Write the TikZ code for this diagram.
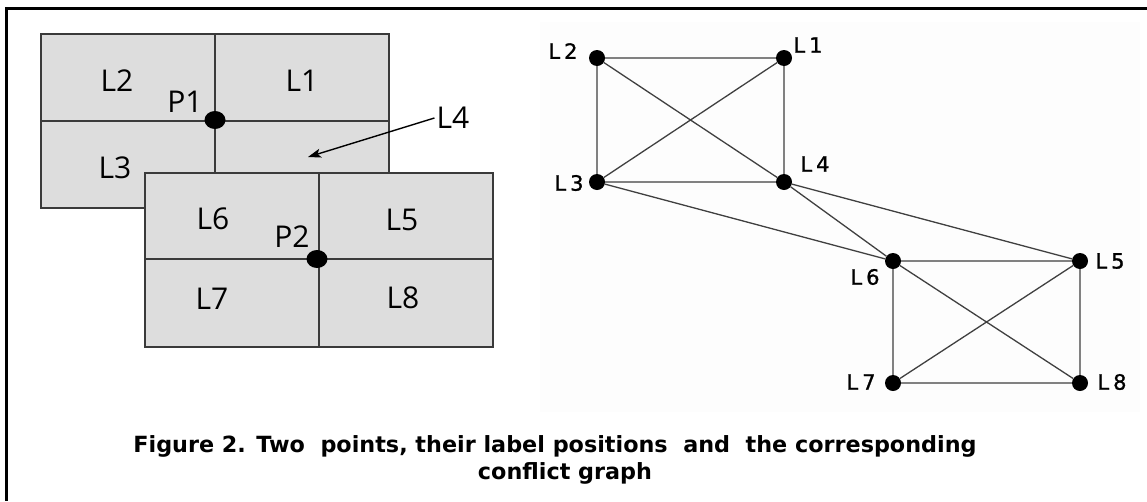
\documentclass[tikz,border=0pt]{standalone}
\usepackage{fontspec}
\setmainfont{Open Sans}
\newfontfamily\graphfont{DejaVu Sans}[FakeBold=1.2]
\newfontfamily\capfont{DejaVu Sans}
\usetikzlibrary{arrows.meta,shapes.geometric}
\definecolor{cellgray}{HTML}{DDDDDD}
\definecolor{linegray}{HTML}{3A3A3A}
\definecolor{edgegray}{HTML}{404040}
\definecolor{faint}{HTML}{FDFDFD}
\begin{document}
\begin{tikzpicture}[x=1pt,y=-1pt,
  cell/.style={fill=cellgray, draw=linegray, line width=1.1pt},
  divider/.style={draw=linegray, line width=1.1pt},
  reglabel/.style={inner sep=0pt, font=\fontsize{30}{30}\selectfont},
  ptdot/.style={ellipse, fill=black, inner sep=0pt, minimum width=21pt, minimum height=18pt},
  vtx/.style={circle, fill=black, inner sep=0pt, minimum size=16pt},
  vlab/.style={inner sep=0pt, font=\graphfont\fontsize{21}{21}\selectfont},
  edge/.style={draw=edgegray, line width=1.3pt},
  captext/.style={inner sep=0pt, anchor=base, font=\capfont\bfseries\fontsize{22.3}{22.3}\selectfont}]
\useasboundingbox (0,0) rectangle (1147,501);
\fill[white] (0,0) rectangle (1147,501);
\fill[faint] (540,22) rectangle (1140,412);
\draw[line width=3pt] (1147,8) -- (6,8) -- (6,501);

% first point's label positions
\draw[cell] (41,34) rectangle (389,208);
\draw[divider] (215,34) -- (215,208);
\draw[divider] (41,121) -- (389,121);
% second point's label positions
\draw[cell] (145,173) rectangle (493,347);
\draw[divider] (319,173) -- (319,347);
\draw[divider] (145,259) -- (493,259);

\node[reglabel] (aL2) at (117,81) {L2};
\node[reglabel] (aL1) at (302,81) {L1};
\node[reglabel] (aP1) at (185,102) {P1};
\node[reglabel] (aL3) at (115,168) {L3};
\node[reglabel] (aL4) at (453,118) {L4};
\node[reglabel] (aL6) at (213,219) {L6};
\node[reglabel] (aL5) at (402,220) {L5};
\node[reglabel] (aP2) at (292,237) {P2};
\node[reglabel] (aL7) at (212,299) {L7};
\node[reglabel] (aL8) at (403,298) {L8};
\node[ptdot] (p1) at (215,120) {};
\node[ptdot] (p2) at (317,259) {};
\coordinate (l4tip) at (308,157);
\draw[line width=1.4pt, -{Stealth[length=13pt,width=9pt,inset=3pt]}] ([xshift=-2pt]aL4.west) -- (l4tip);

% conflict graph
\node[vtx] (g2) at (597,58) {};
\node[vtx] (g1) at (784,58) {};
\node[vtx] (g3) at (597,182) {};
\node[vtx] (g4) at (784,182) {};
\node[vtx] (g6) at (893,261) {};
\node[vtx] (g5) at (1080,261) {};
\node[vtx] (g7) at (893,383) {};
\node[vtx] (g8) at (1080,383) {};
\draw[edge] (g1) -- (g2) (g1) -- (g3) (g1) -- (g4) (g2) -- (g3) (g2) -- (g4) (g3) -- (g4)
  (g3) -- (g6) (g4) -- (g6) (g4) -- (g5)
  (g5) -- (g6) (g5) -- (g7) (g5) -- (g8) (g6) -- (g7) (g6) -- (g8) (g7) -- (g8);
\node[vlab] (t2) at (563,51) {L\kern4pt 2};
\node[vlab] (t1) at (808,45) {L\kern4pt 1};
\node[vlab] (t3) at (569,183) {L\kern4pt 3};
\node[vlab] (t4) at (815,164) {L\kern4pt 4};
\node[vlab] (t6) at (865,277) {L\kern4pt 6};
\node[vlab] (t5) at (1110,261) {L\kern4pt 5};
\node[vlab] (t7) at (861,382) {L\kern4pt 7};
\node[vlab] (t8) at (1112,382) {L\kern4pt 8};

% caption
\node[captext] (cap1) at (555,452) {Figure 2. Two\ \ points, their label positions\ \ and\ \ the corresponding};
\node[captext] (cap2) at (565,479) {conflict graph};
\end{tikzpicture}
\end{document}
